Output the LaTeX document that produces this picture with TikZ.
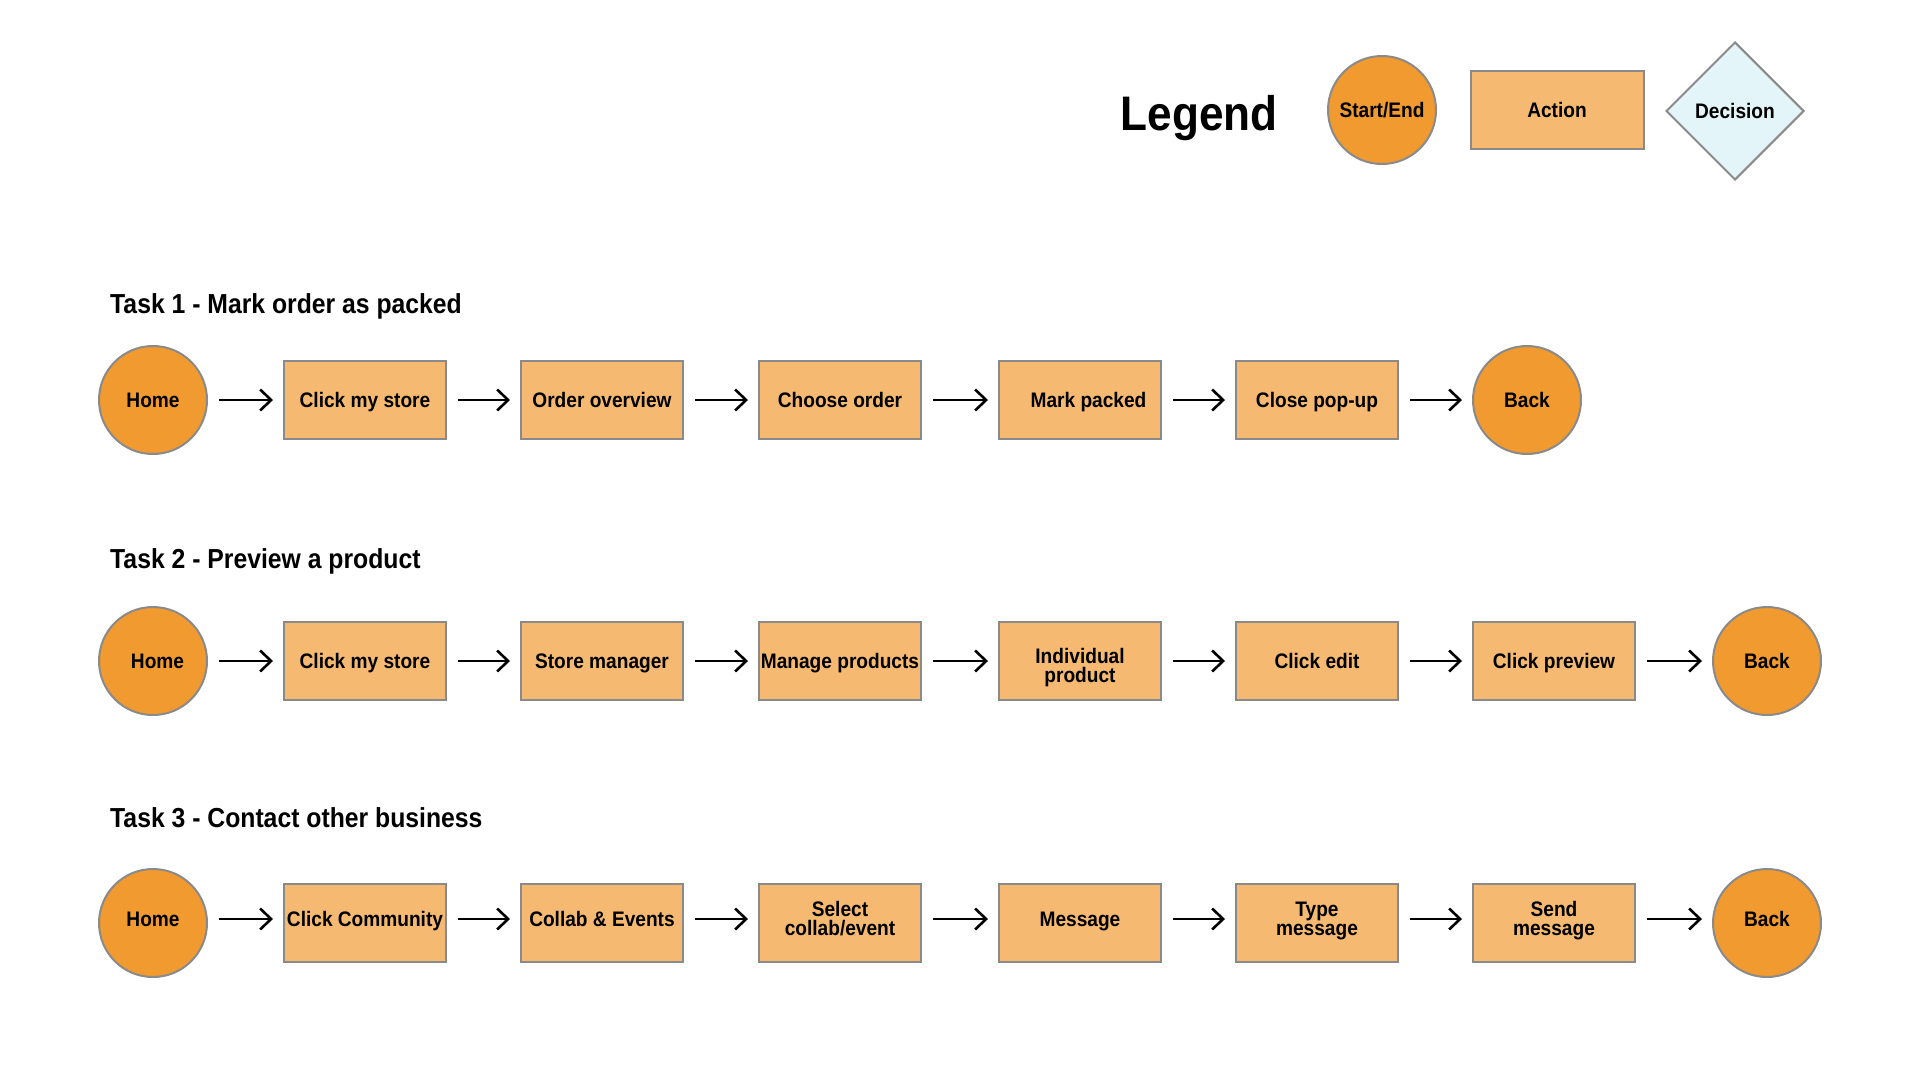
\documentclass[tikz,border=0pt]{standalone}
\usepackage{fontspec}
\setmainfont{Liberation Sans}[FakeStretch=0.91]
\newfontfamily\titlefont{Liberation Sans}[FakeStretch=0.9]
\usetikzlibrary{arrows.meta,shapes.geometric}
\definecolor{cfill}{HTML}{F09A30}
\definecolor{bfill}{HTML}{F5B971}
\definecolor{dfill}{HTML}{E3F5F8}
\definecolor{bord}{HTML}{8A8A8A}
\tikzset{
  onel/.style={text height=18.6pt, text depth=4pt},
  onelc/.style={text height=10pt, text depth=4pt},
  twob/.style={text height=46pt, text depth=4pt},
  twoc/.style={text height=29pt, text depth=4pt},
  startend/.style={circle, draw=bord, line width=2pt, fill=cfill, minimum size=108pt, inner sep=0pt, font=\fontsize{21}{19}\selectfont\bfseries},
  actbox/.style={rectangle, draw=bord, line width=2pt, fill=bfill, minimum width=162pt, minimum height=78pt, inner sep=0pt, align=center, font=\fontsize{21}{19}\selectfont\bfseries},
  decbox/.style={diamond, draw=bord, line width=2pt, fill=dfill, minimum width=138pt, minimum height=138pt, inner sep=0pt, aspect=1, font=\fontsize{21}{19}\selectfont\bfseries},
  arr/.style={-{Straight Barb[length=11pt,width=21pt]}, line width=2.6pt, shorten <=11pt, shorten >=10pt},
  tasktitle/.style={anchor=west, inner sep=0pt, font=\titlefont\fontsize{27.5}{30}\selectfont\bfseries}
}
\begin{document}
\begin{tikzpicture}[x=1pt,y=-1pt]
\useasboundingbox (0,0) rectangle (1920,1080);
% Legend
\node[inner sep=0pt, font=\fontsize{48.5}{55}\selectfont\bfseries] (legend) at (1199,118) {Legend};
\node[startend, onel] (lgs) at (1382,110) {Start/End};
\node[actbox, onel, minimum width=173pt] (lga) at (1557,110) {Action};
\node[decbox, onel] (lgd) at (1735,111) {Decision};

% Task 1
\node[tasktitle] (t1) at (110,306) {Task 1 - Mark order as packed};
\node[startend, onel] (a0) at (153,400) {Home};
\node[actbox, onel] (a1) at (365,400) {Click my store};
\node[actbox, onel] (a2) at (602,400) {Order overview};
\node[actbox, onel] (a3) at (840,400) {Choose order};
\node[actbox, onel] (a4) at (1080,400) {\hspace*{17pt}Mark packed};
\node[actbox, onel] (a5) at (1317,400) {Close pop-up};
\node[startend, onel] (a6) at (1527,400) {Back};
\foreach \i/\j in {a0/a1,a1/a2,a2/a3,a3/a4,a4/a5,a5/a6} \draw[arr] (\i) -- (\j);

% Task 2
\node[tasktitle] (t2) at (110,561) {Task 2 - Preview a product};
\node[startend, onel] (b0) at (153,661) {\hspace*{9pt}Home};
\node[actbox, onel] (b1) at (365,661) {Click my store};
\node[actbox, onel] (b2) at (602,661) {Store manager};
\node[actbox, onel] (b3) at (840,661) {Manage products};
\node[actbox, twob] (b4) at (1080,661) {Individual\\product};
\node[actbox, onel] (b5) at (1317,661) {Click edit};
\node[actbox, onel] (b6) at (1554,661) {Click preview};
\node[startend, onel] (b7) at (1767,661) {Back};
\foreach \i/\j in {b0/b1,b1/b2,b2/b3,b3/b4,b4/b5,b5/b6,b6/b7} \draw[arr] (\i) -- (\j);

% Task 3
\node[tasktitle] (t3) at (110,818) {Task 3 - Contact other business};
\node[startend, onelc] (c0) at (153,923) {Home};
\node[actbox, onelc] (c1) at (365,923) {Click Community};
\node[actbox, onelc] (c2) at (602,923) {Collab \& Events};
\node[actbox, twoc] (c3) at (840,923) {Select\\collab/event};
\node[actbox, onelc] (c4) at (1080,923) {Message};
\node[actbox, twoc] (c5) at (1317,923) {Type\\message};
\node[actbox, twoc] (c6) at (1554,923) {Send\\message};
\node[startend, onelc] (c7) at (1767,923) {Back};
\foreach \i/\j in {c0/c1,c1/c2,c2/c3,c3/c4,c4/c5,c5/c6,c6/c7} \draw[arr] ([yshift=4pt]\i.east) -- ([yshift=4pt]\j.west);
\end{tikzpicture}
\end{document}
